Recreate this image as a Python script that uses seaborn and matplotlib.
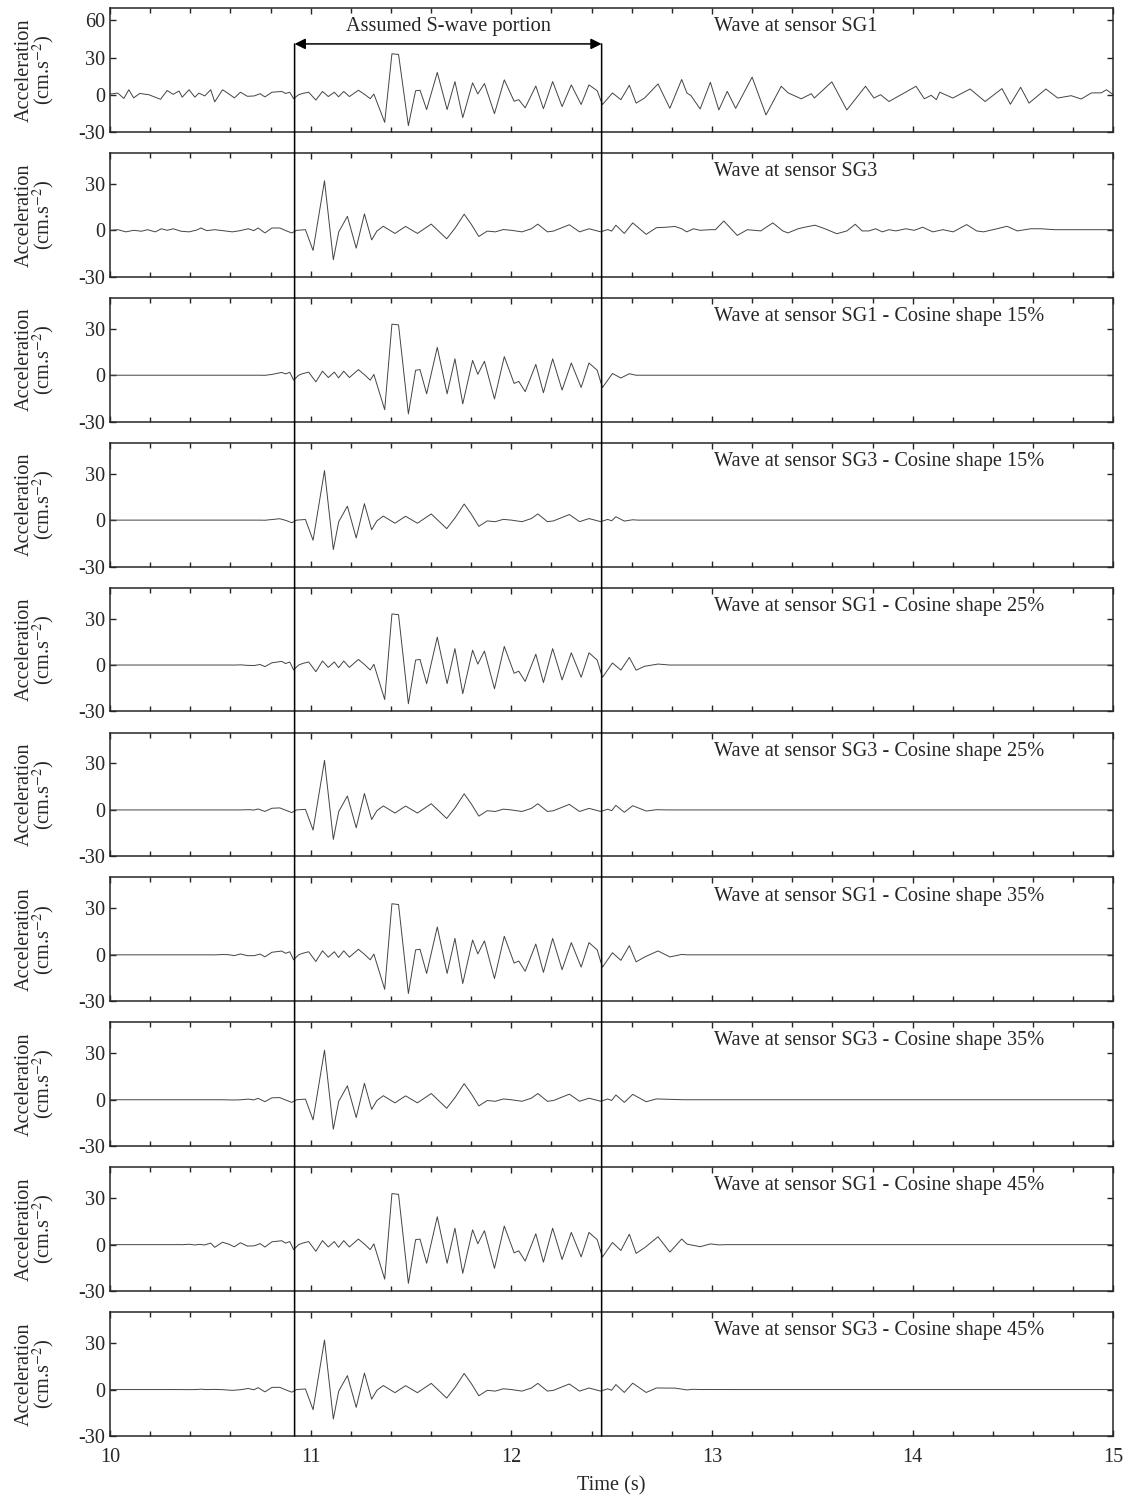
import numpy as np
import pandas as pd
import matplotlib
matplotlib.use("Agg")
import matplotlib.pyplot as plt
from matplotlib.patches import ConnectionPatch
from matplotlib.ticker import MultipleLocator
import seaborn as sns


# DATA ----------------------------------------------------------------------------------------

# Raw record at sensor SG1 (extrema), time in s, acceleration in cm/s2
sg1_time = [10.00, 10.039, 10.069, 10.094, 10.118, 10.148, 10.193, 10.252, 10.285, 10.315,
            10.344, 10.360, 10.394, 10.423, 10.443, 10.472, 10.502, 10.522, 10.561, 10.591,
            10.620, 10.650, 10.685, 10.719, 10.748, 10.772, 10.807, 10.856, 10.875, 10.896,
            10.915, 10.94, 10.96, 10.99, 11.026, 11.059, 11.088, 11.118, 11.139, 11.165,
            11.193, 11.238, 11.271, 11.297, 11.315, 11.369, 11.405, 11.438, 11.487, 11.523,
            11.545, 11.578, 11.631, 11.680, 11.719, 11.758, 11.807, 11.833, 11.866, 11.916,
            11.965, 12.014, 12.037, 12.069, 12.122, 12.160, 12.206, 12.253, 12.299, 12.348,
            12.387, 12.428, 12.454, 12.504, 12.546, 12.588, 12.622, 12.664, 12.731, 12.790,
            12.849, 12.875, 12.895, 12.941, 12.992, 13.034, 13.076, 13.118, 13.200, 13.269,
            13.345, 13.380, 13.445, 13.495, 13.510, 13.597, 13.672, 13.765, 13.807, 13.840,
            13.882, 14.017, 14.058, 14.092, 14.118, 14.135, 14.200, 14.286, 14.361, 14.445,
            14.487, 14.538, 14.580, 14.664, 14.723, 14.790, 14.840, 14.890, 14.940, 14.966,
            15.00]
sg1_acc = [0.5, 1.3, -3.0, 4.0, -2.6, 1.0, 0.0, -3.7, 3.4, 0.3,
           3.0, -2.0, 4.0, -2.0, 1.3, -1.0, 4.0, -5.8, 4.0, 0.8,
           -2.6, 2.0, -1.3, -1.0, 0.8, -1.8, 2.0, 2.6, 1.0, 2.0,
           -3.2, 0.0, 1.0, 2.0, -4.3, 2.6, -1.5, 2.0, -1.7, 2.6,
           -1.5, 3.6, 0.0, -3.2, 0.5, -22.3, 33.0, 32.5, -25.0, 3.2,
           3.6, -12.0, 18.0, -12.0, 10.6, -18.5, 9.6, 0.6, 9.0, -15.3,
           12.0, -5.3, -4.0, -10.6, 7.0, -11.3, 10.6, -9.6, 7.9, -7.9,
           7.9, 3.2, -8.0, 1.4, -4.0, 7.6, -6.8, -2.7, 8.7, -11.0,
           12.3, 1.4, -0.7, -11.5, 10.0, -12.3, 2.7, -11.0, 14.2, -16.4,
           6.8, 1.4, -3.3, 0.8, -2.7, 10.4, -12.3, 6.8, -2.7, 0.0,
           -5.5, 6.8, -3.3, -0.5, -4.0, 2.0, -2.7, 4.6, -5.5, 4.9,
           -7.7, 6.0, -6.8, 4.6, -2.7, -0.8, -3.5, 1.4, 1.5, 4.0,
           0.0]

# Raw record at sensor SG3
sg3_time = [10.00, 10.039, 10.079, 10.118, 10.157, 10.187, 10.226, 10.256, 10.285, 10.315,
            10.354, 10.394, 10.433, 10.453, 10.482, 10.522, 10.561, 10.610, 10.650, 10.689,
            10.717, 10.738, 10.772, 10.807, 10.846, 10.876, 10.906, 10.930, 10.974, 11.012,
            11.069, 11.113, 11.140, 11.183, 11.227, 11.268, 11.304, 11.330, 11.362, 11.420,
            11.473, 11.532, 11.601, 11.678, 11.720, 11.765, 11.800, 11.838, 11.880, 11.920,
            11.960, 12.000, 12.053, 12.100, 12.132, 12.180, 12.210, 12.289, 12.340, 12.387,
            12.446, 12.480, 12.500, 12.521, 12.563, 12.605, 12.672, 12.723, 12.773, 12.815,
            12.849, 12.874, 12.908, 12.940, 12.992, 13.017, 13.059, 13.126, 13.176, 13.210,
            13.243, 13.303, 13.353, 13.378, 13.429, 13.462, 13.513, 13.563, 13.622, 13.672,
            13.714, 13.748, 13.782, 13.815, 13.849, 13.882, 13.916, 13.966, 14.008, 14.050,
            14.100, 14.151, 14.202, 14.269, 14.319, 14.353, 14.420, 14.470, 14.521, 14.588,
            14.640, 14.706, 14.790, 14.874, 14.958, 15.00]
sg3_acc = [0.0, 0.4, -1.0, 0.0, -0.6, 0.4, -1.0, 1.0, 0.0, 1.0,
           -0.6, -1.0, 0.2, 1.5, -0.2, 0.4, -0.2, -1.0, -0.2, 1.0,
           -0.2, 1.5, -1.7, 1.5, 1.5, -0.2, -1.7, 0.0, 0.4, -13.0,
           32.0, -19.0, -1.0, 9.0, -11.5, 10.6, -6.2, -0.5, 2.6, -2.0,
           2.5, -2.0, 4.0, -5.5, 1.5, 10.4, 4.0, -4.0, -0.5, -1.0,
           0.5, 0.0, -1.0, 1.0, 4.0, -1.0, -0.5, 3.6, -1.0, 1.0,
           -1.0, 0.5, -0.5, 3.3, -2.0, 4.8, -2.6, 1.7, 2.0, 2.5,
           1.0, -1.0, 1.0, 0.0, 0.4, 0.4, 6.0, -3.3, 0.4, 0.0,
           -0.4, 4.8, -0.4, -1.7, 1.0, 2.0, 3.3, 1.0, -2.2, -0.4,
           3.9, -0.4, -0.4, 1.0, -1.0, 0.4, -0.4, 1.0, 0.0, 2.0,
           -1.0, 0.4, -1.0, 3.7, -0.4, -1.0, 1.0, 2.6, -0.4, 1.0,
           1.0, 0.4, 0.4, 0.4, 0.4, 0.4]

# Assumed S-wave portion (s)
s_wave = [10.92, 12.45]

taper_pct = [15, 25, 35, 45]
taper_start = [10.75, 10.60, 10.50, 10.29]
taper_end = [12.63, 12.79, 12.89, 13.08]

T_MIN, T_MAX = 10, 15
FONT = "Liberation Serif"
FS = 14.6
LINE_COLOR = "#444444"


def cosine_taper(time, acc, start, end):
    """Apply a half-cosine ramp outside the S-wave window, zero beyond start/end."""
    t = np.asarray(time)
    a = np.asarray(acc)
    keep = (t > start) & (t < end)
    t, a = t[keep], a[keep]
    w = np.ones_like(t)
    left = t < s_wave[0]
    right = t > s_wave[1]
    w[left] = 0.5 * (1 - np.cos(np.pi * (t[left] - start) / (s_wave[0] - start)))
    w[right] = 0.5 * (1 - np.cos(np.pi * (end - t[right]) / (end - s_wave[1])))
    tt = np.concatenate([[T_MIN, start], t, [end, T_MAX]])
    aa = np.concatenate([[0, 0], a * w, [0, 0]])
    return tt, aa


# Panels: (sensor, taper index or None)
raw = {"SG1": (sg1_time, sg1_acc), "SG3": (sg3_time, sg3_acc)}
panels = [("SG1", None), ("SG3", None)]
for k in range(len(taper_pct)):
    panels += [("SG1", k), ("SG3", k)]


# PLOT ----------------------------------------------------------------------------------------

sns.set_style("ticks")
plt.rcParams["font.family"] = [FONT, "DejaVu Serif"]
plt.rcParams["mathtext.fontset"] = "stix"
plt.rcParams["axes.unicode_minus"] = False
plt.rcParams["axes.linewidth"] = 1.1
plt.rcParams["xtick.direction"] = "in"
plt.rcParams["ytick.direction"] = "in"

fig, axes = plt.subplots(len(panels), 1, figsize=(11.28, 15), dpi=100, sharex=True)
fig.subplots_adjust(left=0.0975, right=0.987, top=1 - 8 / 1500, bottom=1 - 1436 / 1500,
                    hspace=0.17)

for i, (ax, (sensor, k)) in enumerate(zip(axes, panels)):
    t, a = raw[sensor]
    if k is None:
        title = "Wave at sensor " + sensor
    else:
        t, a = cosine_taper(t, a, taper_start[k], taper_end[k])
        title = "Wave at sensor %s - Cosine shape %d%%" % (sensor, taper_pct[k])

    df = pd.DataFrame({"Time": t, "Acc": a})
    sns.lineplot(data=df, x="Time", y="Acc", ax=ax, color=LINE_COLOR, linewidth=0.7,
                 estimator=None, sort=True)

    ax.set_xlim(T_MIN, T_MAX)
    if i == 0:
        ax.set_ylim(-30, 70)
        ax.set_yticks([-30, 0, 30, 60])
    else:
        ax.set_ylim(-30, 50)
        ax.set_yticks([-30, 0, 30])
    ax.xaxis.set_major_locator(MultipleLocator(1))
    ax.xaxis.set_minor_locator(MultipleLocator(0.2))
    ax.tick_params(which="both", top=True, right=True, width=1.0, labelsize=FS)
    ax.tick_params(which="major", length=4.5)
    ax.tick_params(which="minor", length=3.5)
    ax.tick_params(axis="x", pad=9)
    ax.set_xlabel("")
    ax.set_ylabel("Acceleration\n(cm.s$^{-2}$)", fontsize=FS, linespacing=0.85)
    ax.yaxis.set_label_coords(-0.053, 0.5)
    ax.text(0.602, 0.85, title, transform=ax.transAxes, fontsize=FS, ha="left", va="center")

axes[-1].set_xlabel("Time (s)", fontsize=FS, labelpad=6)

# S-wave window: arrow + vertical lines through all panels
top = axes[0]
arrow_y = 41
top.annotate("", xy=(s_wave[0], arrow_y), xytext=(s_wave[1], arrow_y),
             arrowprops=dict(arrowstyle="<|-|>", color="black", lw=1.1,
                             mutation_scale=16, shrinkA=0, shrinkB=0))
top.text(np.mean(s_wave), 55, "Assumed S-wave portion", fontsize=FS, ha="center", va="center")
for x in s_wave:
    con = ConnectionPatch(xyA=(x, arrow_y), coordsA=top.transData,
                          xyB=(x, -30), coordsB=axes[-1].transData,
                          color="black", lw=1.1)
    fig.add_artist(con)

fig.savefig("out.png", dpi=100)
